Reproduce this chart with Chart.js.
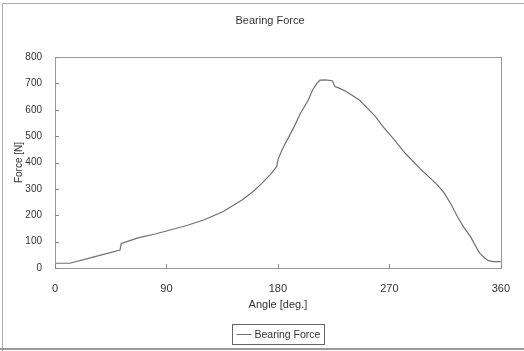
<!DOCTYPE html>
<html>
<head>
<meta charset="utf-8">
<script src="https://cdn.jsdelivr.net/npm/chart.js"></script>
<style>
  html, body { margin: 0; padding: 0; background: #fff; }
  canvas { display: block; }
</style>
</head>
<body>
<canvas id="bearingChart" width="524" height="351"></canvas>
<script>
// data
const angles = [0, 12, 30, 52.5, 53.5, 58, 67, 80, 93, 107, 120, 135.5, 151, 160, 167, 174, 179, 180, 181.5, 184, 193, 198, 204, 208, 211.5, 214, 218, 224, 226, 229, 235.5, 246, 252, 259, 265, 272, 283, 296, 309, 314.5, 320, 325, 330, 335.5, 340, 343, 347, 350, 354, 360];
const forces = [18, 18, 40, 68, 93, 100, 114, 128, 144, 162, 182, 213, 258, 290, 321, 355, 384, 409, 428, 454, 535, 585, 632, 675, 700, 712, 713, 710, 688, 683, 668, 636, 607, 573, 535, 497, 434, 371, 314, 283, 240, 194, 155, 119, 80, 56, 38, 28, 24, 24];
const xTicks = [0, 90, 180, 270, 360];
const yTicks = [0, 100, 200, 300, 400, 500, 600, 700, 800];

const TEXT = "#333";
const FONT = "Liberation Sans, Arial, sans-serif";

// frame, plot box, inward ticks, title and boxed legend
const decorations = {
  id: "decorations",
  beforeDraw(chart) {
    const c = chart.ctx;
    c.save();
    c.fillStyle = "#fff";
    c.fillRect(0, 0, chart.width, chart.height);
    c.strokeStyle = "#aaa";
    c.lineWidth = 1;
    c.beginPath();
    c.moveTo(2.5, chart.height);
    c.lineTo(2.5, 3.5);
    c.lineTo(chart.width, 3.5);
    c.stroke();
    c.lineWidth = 2;
    c.strokeStyle = "#999";
    c.beginPath();
    c.moveTo(0, chart.height - 2);
    c.lineTo(chart.width, chart.height - 2);
    c.stroke();
    c.restore();
  },
  afterDatasetsDraw(chart) {
    const c = chart.ctx;
    const a = chart.chartArea;
    const xs = chart.scales.x;
    const ys = chart.scales.y;
    c.save();
    c.strokeStyle = "#999";
    c.lineWidth = 1;
    c.strokeRect(Math.round(a.left) + 0.5, Math.round(a.top) + 0.5,
      Math.round(a.right - a.left), Math.round(a.bottom - a.top));
    c.strokeStyle = "#888";
    c.beginPath();
    yTicks.forEach((v) => {
      const y = Math.round(ys.getPixelForValue(v)) + 0.5;
      c.moveTo(a.left, y);
      c.lineTo(a.left + 4, y);
    });
    xTicks.forEach((v) => {
      const x = Math.round(xs.getPixelForValue(v)) + 0.5;
      c.moveTo(x, a.bottom);
      c.lineTo(x, a.bottom - 4);
    });
    c.stroke();

    // title
    c.fillStyle = TEXT;
    c.font = "11px " + FONT;
    c.textAlign = "center";
    c.textBaseline = "middle";
    c.fillText("Bearing Force", chart.width / 2 + 8, 21);

    // legend
    const label = chart.data.datasets[0].label;
    c.font = "10.5px " + FONT;
    const tw = c.measureText(label).width;
    const bw = tw + 26;
    const cx = (a.left + a.right) / 2;
    const bx = Math.round(cx - bw / 2) + 0.5;
    const by = 324.5;
    c.strokeStyle = "#666";
    c.strokeRect(bx, by, Math.round(bw), 20);
    c.strokeStyle = chart.data.datasets[0].borderColor;
    c.beginPath();
    c.moveTo(bx + 4, by + 10);
    c.lineTo(bx + 19, by + 10);
    c.stroke();
    c.textAlign = "left";
    c.fillText(label, bx + 22, by + 10.5);
    c.restore();
  },
};

const ctx = document.getElementById("bearingChart").getContext("2d");

new Chart(ctx, {
  type: "line",
  data: {
    datasets: [
      {
        label: "Bearing Force",
        data: angles.map((a, i) => ({ x: a, y: forces[i] })),
        borderColor: "#707070",
        borderWidth: 1.2,
        pointRadius: 0,
        tension: 0,
        fill: false,
      },
    ],
  },
  options: {
    responsive: false,
    animation: false,
    layout: { padding: { left: 0, top: 57, right: 13, bottom: 33 } },
    plugins: {
      legend: { display: false },
      title: { display: false },
      tooltip: { enabled: false },
    },
    scales: {
      x: {
        type: "linear",
        min: 0,
        max: 360,
        afterFit: (s) => { s.height = 50; },
        afterBuildTicks: (s) => { s.ticks = xTicks.map((v) => ({ value: v })); },
        grid: { display: false, drawTicks: false },
        border: { display: false },
        ticks: { color: TEXT, font: { family: FONT, size: 11 }, padding: 14, maxRotation: 0 },
        title: {
          display: true,
          text: "Angle [deg.]",
          color: TEXT,
          font: { family: FONT, size: 11 },
          padding: { top: 0, bottom: 6 },
        },
      },
      y: {
        min: 0,
        max: 800,
        afterFit: (s) => { s.width = 55; },
        afterBuildTicks: (s) => { s.ticks = yTicks.map((v) => ({ value: v })); },
        grid: { display: false, drawTicks: false },
        border: { display: false },
        ticks: { color: TEXT, font: { family: FONT, size: 10 }, padding: 13 },
        title: {
          display: true,
          text: "Force [N]",
          color: TEXT,
          font: { family: FONT, size: 10 },
          padding: { top: 13, bottom: 0 },
        },
      },
    },
  },
  plugins: [decorations],
});
</script>
</body>
</html>
